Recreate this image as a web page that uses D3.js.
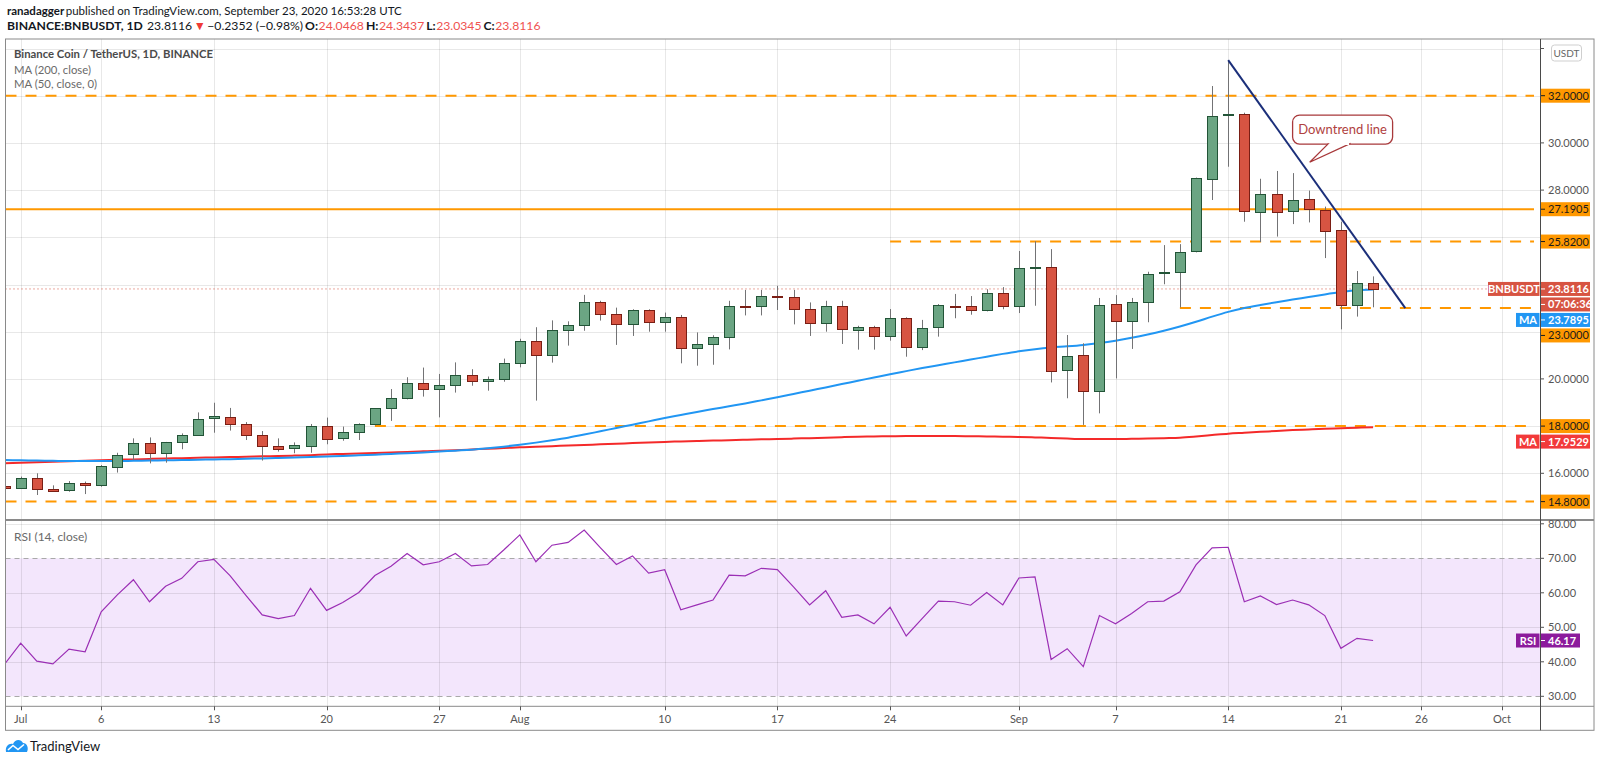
<!DOCTYPE html>
<html>
<head>
<meta charset="utf-8">
<style>
  body { margin: 0; background: #fff; }
  svg { display: block; font-family: Lato, "Open Sans", sans-serif; }
</style>
<script src="https://cdn.jsdelivr.net/npm/d3@7"></script>
</head>
<body>
<svg id="chart" width="1600" height="763"></svg>
<script>
// daily candles, Jun 30 .. Sep 23 2020
const days = ["06-30",
  "07-01","07-02","07-03","07-04","07-05","07-06","07-07","07-08","07-09","07-10",
  "07-11","07-12","07-13","07-14","07-15","07-16","07-17","07-18","07-19","07-20",
  "07-21","07-22","07-23","07-24","07-25","07-26","07-27","07-28","07-29","07-30","07-31",
  "08-01","08-02","08-03","08-04","08-05","08-06","08-07","08-08","08-09","08-10",
  "08-11","08-12","08-13","08-14","08-15","08-16","08-17","08-18","08-19","08-20",
  "08-21","08-22","08-23","08-24","08-25","08-26","08-27","08-28","08-29","08-30","08-31",
  "09-01","09-02","09-03","09-04","09-05","09-06","09-07","09-08","09-09","09-10",
  "09-11","09-12","09-13","09-14","09-15","09-16","09-17","09-18","09-19","09-20",
  "09-21","09-22","09-23"];

const open = [15.46,
  15.38,15.79,15.35,15.28,15.59,15.48,16.30,16.80,17.27,16.83,
  17.31,17.62,18.31,18.39,18.08,17.62,17.17,17.06,17.17,18.00,
  17.47,17.74,18.07,18.75,19.18,19.81,19.56,19.74,20.15,19.90,19.98,
  20.66,21.59,21.00,22.06,22.28,23.26,22.75,22.33,22.92,22.40,
  22.62,21.30,21.48,21.76,23.08,23.07,23.52,23.46,22.96,22.35,
  23.07,22.10,22.20,21.83,22.58,21.37,22.19,23.11,23.09,22.93,23.63,
  23.10,24.72,24.74,20.38,21.00,19.49,23.16,22.44,23.26,24.52,
  24.56,25.39,28.50,31.18,31.22,27.10,27.82,27.10,27.61,27.16,
  26.29,23.10,24.0468];
const high = [15.52,
  15.86,16.00,15.49,15.67,15.65,16.35,16.87,17.48,17.52,17.33,
  17.69,18.58,18.99,18.77,18.17,17.79,17.48,17.31,18.09,18.36,
  17.98,18.12,18.76,19.57,20.07,20.48,20.21,20.70,20.41,20.10,20.86,
  21.70,22.19,22.48,22.44,23.56,23.31,23.02,22.95,22.95,22.81,
  22.71,21.97,21.85,23.31,23.77,23.77,23.94,23.77,23.24,23.31,
  23.31,22.25,22.25,22.96,22.61,22.50,23.17,23.60,23.51,23.80,23.89,
  25.42,25.83,25.50,21.86,21.51,23.43,23.55,23.43,24.54,25.67,
  25.71,28.53,32.41,33.51,31.28,28.48,28.81,28.72,27.98,27.30,
  26.66,24.57,24.3437];
const low = [15.35,
  15.35,15.08,15.24,15.22,15.12,15.43,16.03,16.56,16.42,16.45,
  17.02,17.58,17.72,17.81,17.41,16.54,16.92,16.85,16.87,17.23,
  17.38,17.41,18.03,18.22,19.13,19.25,18.37,19.42,19.71,19.50,19.88,
  20.49,19.08,20.69,21.41,22.04,22.47,21.44,21.82,22.00,22.00,
  20.66,20.56,20.60,21.25,22.69,22.69,22.92,22.31,21.82,22.00,
  21.48,21.24,21.24,21.62,20.94,21.22,21.79,22.57,22.72,22.86,22.95,
  22.79,23.10,19.85,19.18,18.05,18.54,20.02,21.27,22.40,24.01,
  23.03,25.36,27.58,28.99,26.66,25.80,26.03,26.56,26.63,25.12,
  22.10,22.64,23.0345];
const close = [15.38,
  15.79,15.33,15.26,15.57,15.50,16.30,16.79,17.27,16.83,17.31,
  17.62,18.30,18.41,18.08,17.62,17.17,17.06,17.18,18.02,17.47,
  17.74,18.07,18.75,19.18,19.81,19.56,19.74,20.15,19.90,19.98,20.66,
  21.59,21.00,22.06,22.27,23.26,22.75,22.33,22.92,22.41,22.62,
  21.30,21.48,21.76,23.07,23.06,23.50,23.50,22.96,22.35,23.07,
  22.10,22.21,21.83,22.58,21.37,22.17,23.12,23.09,22.93,23.63,23.10,
  24.69,24.73,20.35,20.96,19.49,23.12,22.44,23.26,24.43,24.53,
  25.39,28.50,31.15,31.22,27.10,27.85,27.06,27.58,27.18,26.29,
  23.10,24.0468,23.8116];

// MA (50) and MA (200)
const ma50 = [16.56,
  16.55,16.54,16.53,16.52,16.52,16.52,16.52,16.53,16.54,16.55,
  16.56,16.57,16.59,16.60,16.62,16.63,16.65,16.67,16.69,16.71,
  16.73,16.76,16.79,16.82,16.85,16.88,16.92,16.96,17.00,17.06,17.13,
  17.21,17.30,17.40,17.51,17.64,17.78,17.92,18.06,18.20,18.34,
  18.47,18.60,18.72,18.84,18.96,19.09,19.22,19.36,19.50,19.64,
  19.78,19.92,20.06,20.20,20.33,20.46,20.58,20.70,20.82,20.94,21.06,
  21.17,21.26,21.33,21.38,21.44,21.52,21.62,21.74,21.88,22.04,
  22.22,22.42,22.64,22.84,23.00,23.13,23.25,23.36,23.47,23.58,
  23.68,23.76,23.7895];
const ma200 = [16.43,
  16.45,16.47,16.49,16.51,16.53,16.55,16.57,16.59,16.61,16.63,
  16.64,16.66,16.67,16.69,16.70,16.72,16.73,16.75,16.77,16.80,
  16.82,16.84,16.86,16.88,16.90,16.93,16.96,16.98,17.01,17.04,17.07,
  17.10,17.13,17.15,17.18,17.20,17.23,17.25,17.28,17.30,17.33,
  17.35,17.37,17.39,17.40,17.42,17.44,17.45,17.47,17.49,17.51,
  17.53,17.55,17.56,17.57,17.58,17.58,17.58,17.58,17.57,17.56,17.55,
  17.54,17.52,17.50,17.47,17.45,17.45,17.45,17.46,17.47,17.49,
  17.51,17.56,17.62,17.68,17.72,17.76,17.79,17.83,17.86,17.89,
  17.91,17.93,17.9529];

// RSI (14, close)
const rsi = [39.3,
  45.4,40.2,39.4,43.7,42.9,54.5,59.4,63.8,57.4,61.9,
  64.2,69.0,69.7,65.0,59.2,53.6,52.5,53.4,61.3,54.9,
  57.2,60.1,65.0,67.7,71.4,68.1,69.0,71.4,67.8,68.2,72.4,
  76.8,69.0,73.8,74.6,78.2,73.1,68.2,70.7,65.7,66.7,
  55.1,56.5,57.9,65.1,64.9,67.1,66.7,61.7,56.5,60.6,
  52.9,53.6,51.0,55.8,47.5,52.6,57.6,57.4,56.4,60.1,56.5,
  64.3,64.6,40.7,43.8,38.6,53.4,51.0,54.0,57.4,57.6,
  60.3,68.1,73.0,73.2,57.4,59.1,56.6,57.9,56.5,53.4,
  43.9,46.8,46.17];

// horizontal levels drawn on the chart
const levelValues = [32, 27.1905, 25.82, 23, 18, 14.8];
const levelFrom = [null, null, "08-24", "09-11", "07-23", null];
const levelDashed = [true, false, true, true, true, true];
const levelText = ["32.0000", "27.1905", "25.8200", "23.0000", "18.0000", "14.8000"];

const priceTicks = [14, 16, 18, 20, 22, 24, 26, 28, 30, 32, 34];
const rsiTicks = [80, 70, 60, 50, 40, 30];
const rsiGrid = [80, 60, 50, 40];
const timeTicks = ["07-01","07-06","07-13","07-20","07-27","08-01","08-10","08-17","08-24","09-01","09-07","09-14","09-21","09-26","10-01"];
const timeLabels = ["Jul","6","13","20","27","Aug","10","17","24","Sep","7","14","21","26","Oct"];

// trend line: Sep 14 high down to Sep 25
const trendDays = ["09-14", "09-25"];
const trendPrices = [33.51, 23.0];

const parse = s => new Date(`2020-${s}T00:00:00Z`);
const dates = days.map(parse);
const idx = d3.range(days.length);

// layout
const pL = 5.5, pR = 1540, pOuter = 1594;
const pTop = 39, pSep = 520, pAxis = 706.3, pBottom = 730.3;

const x = d3.scaleUtc().domain([parse("07-01"), parse("10-01")]).range([20.7, 1501.9]);
const y = d3.scaleLinear().domain([16, 32]).range([473.3, 95.7]);
const yR = d3.scaleLinear().domain([30, 70]).range([696.3, 558.3]);

const svg = d3.select("#chart");
const defs = svg.append("defs");
defs.append("clipPath").attr("id", "clip-price")
  .append("rect").attr("x", pL).attr("y", pTop).attr("width", pR - pL).attr("height", pSep - pTop);
defs.append("clipPath").attr("id", "clip-rsi")
  .append("rect").attr("x", pL).attr("y", pSep).attr("width", pR - pL).attr("height", pAxis - pSep);

// header: pieces laid out one after another, gaps stretched to fit the given width
function headerRow(yPos, size, pieces, total) {
  const g = svg.append("g").attr("font-size", size);
  const nodes = pieces.map(p => g.append("text").attr("y", yPos)
    .attr("fill", p.fill || "#131722").attr("font-weight", p.bold ? "bold" : null).text(p.t));
  const widths = nodes.map(n => n.node().getComputedTextLength());
  const gaps = pieces.map(p => p.gap || 0);
  const k = total ? Math.max(0.5, (total - d3.sum(widths)) / d3.sum(gaps)) : 1;
  let xPos = 7;
  nodes.forEach((n, i) => {
    xPos += gaps[i] * k;
    n.attr("x", xPos);
    xPos += widths[i];
  });
}
headerRow(15, 11.5, [
  { t: "ranadagger", bold: true },
  { t: "published on TradingView.com, September 23, 2020 16:53:28 UTC", gap: 3 }
], 386);
headerRow(29.5, 12.2, [
  { t: "BINANCE:BNBUSDT, 1D", bold: true },
  { t: "23.8116", gap: 8 },
  { t: "▼", fill: "#ef3b36", gap: 3 },
  { t: "\u22120.2352 (\u22120.98%)", gap: 3 },
  { t: "O:", bold: true, gap: 4 }, { t: "24.0468", fill: "#ef5350", gap: 1 },
  { t: "H:", bold: true, gap: 4 }, { t: "24.3437", fill: "#ef5350", gap: 1 },
  { t: "L:", bold: true, gap: 4 }, { t: "23.0345", fill: "#ef5350", gap: 1 },
  { t: "C:", bold: true, gap: 4 }, { t: "23.8116", fill: "#ef5350", gap: 1 }
], 528);

// RSI band
svg.append("rect")
  .attr("x", pL).attr("width", pR - pL)
  .attr("y", yR(70)).attr("height", yR(30) - yR(70))
  .attr("fill", "#f3e6fc");

// grid
const grid = svg.append("g").attr("stroke", "rgba(0,0,0,0.09)").attr("stroke-width", 1);
grid.selectAll(".vg").data(timeTicks).join("line")
  .attr("x1", d => Math.round(x(parse(d))) + 0.5).attr("x2", d => Math.round(x(parse(d))) + 0.5)
  .attr("y1", pTop).attr("y2", pAxis);
grid.selectAll(".hg").data(priceTicks.filter(v => y(v) > pTop && y(v) < pSep)).join("line")
  .attr("x1", pL).attr("x2", pR)
  .attr("y1", d => Math.round(y(d)) + 0.5).attr("y2", d => Math.round(y(d)) + 0.5);
grid.selectAll(".rg").data(rsiGrid).join("line")
  .attr("x1", pL).attr("x2", pR)
  .attr("y1", d => Math.round(yR(d)) + 0.5).attr("y2", d => Math.round(yR(d)) + 0.5);

svg.append("g").selectAll("line").data([70, 30]).join("line")
  .attr("x1", pL).attr("x2", pR)
  .attr("y1", d => Math.round(yR(d)) + 0.5).attr("y2", d => Math.round(yR(d)) + 0.5)
  .attr("stroke", "#a9a9a9").attr("stroke-dasharray", "5,4");

// price pane
const price = svg.append("g").attr("clip-path", "url(#clip-price)");

// last price dotted line
price.append("line")
  .attr("x1", pL).attr("x2", pR)
  .attr("y1", y(close[close.length - 1])).attr("y2", y(close[close.length - 1]))
  .attr("stroke", "#d75442").attr("stroke-dasharray", "1,3").attr("stroke-width", 1);

// support / resistance levels
price.selectAll(".lvl").data(levelValues).join("line")
  .attr("x1", (d, i) => levelFrom[i] ? x(parse(levelFrom[i])) : pL)
  .attr("x2", pR - 6)
  .attr("y1", d => y(d)).attr("y2", d => y(d))
  .attr("stroke", "#ff9800").attr("stroke-width", 2)
  .attr("stroke-dasharray", (d, i) => levelDashed[i] ? "11,9" : null);

// moving averages
const maLine = vals => d3.line().x((d, i) => x(dates[i])).y(d => y(d)).curve(d3.curveMonotoneX)(vals);
price.append("path").attr("d", maLine(ma200))
  .attr("fill", "none").attr("stroke", "#f42a2a").attr("stroke-width", 2);
price.append("path").attr("d", maLine(ma50))
  .attr("fill", "none").attr("stroke", "#2196f3").attr("stroke-width", 2);

// candles
const bw = 10;
const up = i => close[i] >= open[i];
const cx = i => Math.round(x(dates[i])) + 0.5;
price.selectAll(".wick").data(idx).join("line")
  .attr("x1", cx).attr("x2", cx)
  .attr("y1", i => y(high[i])).attr("y2", i => y(low[i]))
  .attr("stroke", "#737375").attr("stroke-width", 1);
price.selectAll(".body").data(idx).join("rect")
  .attr("x", i => cx(i) - bw / 2)
  .attr("width", bw)
  .attr("y", i => Math.round(y(Math.max(open[i], close[i]))) + 0.5)
  .attr("height", i => Math.max(1, Math.round(Math.abs(y(open[i]) - y(close[i])))))
  .attr("fill", i => up(i) ? "#6ba583" : "#d75442")
  .attr("stroke", i => up(i) ? "#225437" : "#7a1e14")
  .attr("stroke-width", 1);

// downtrend line
price.append("line")
  .attr("x1", x(parse(trendDays[0]))).attr("y1", y(trendPrices[0]))
  .attr("x2", x(parse(trendDays[1]))).attr("y2", y(trendPrices[1]))
  .attr("stroke", "#1b2f7a").attr("stroke-width", 2);

// callout
const bx = x(parse("09-18")), bwid = 100, byT = y(31.18), byB = y(29.95);
const tipX = x(parse("09-19")) + 1, tipY = y(29.18);
const call = price.append("g");
call.append("rect").attr("x", bx).attr("y", byT).attr("width", bwid).attr("height", byB - byT)
  .attr("rx", 7).attr("fill", "#fff").attr("stroke", "#a8393b").attr("stroke-width", 1.3);
call.append("path")
  .attr("d", `M${bx + 36},${byB - 0.7} L${tipX},${tipY} L${bx + 58},${byB - 0.7}`)
  .attr("fill", "#fff").attr("stroke", "#a8393b").attr("stroke-width", 1.3);
call.append("line").attr("x1", bx + 37.5).attr("x2", bx + 56.5).attr("y1", byB).attr("y2", byB)
  .attr("stroke", "#fff").attr("stroke-width", 2);
call.append("text").attr("x", bx + bwid / 2).attr("y", (byT + byB) / 2 + 4.5)
  .attr("text-anchor", "middle").attr("font-size", 13).attr("fill", "#b0413e")
  .text("Downtrend line");

// legend
const leg = svg.append("g").attr("font-size", 12);
leg.append("text").attr("x", 14).attr("y", 57.5).attr("fill", "#4a4a4a").attr("font-weight", "bold")
  .attr("textLength", 199).attr("lengthAdjust", "spacingAndGlyphs")
  .text("Binance Coin / TetherUS, 1D, BINANCE");
leg.append("text").attr("x", 14).attr("y", 73.5).attr("fill", "#6a6a6a")
  .attr("textLength", 77).attr("lengthAdjust", "spacingAndGlyphs").text("MA (200, close)");
leg.append("text").attr("x", 14).attr("y", 87.5).attr("fill", "#6a6a6a")
  .attr("textLength", 83).attr("lengthAdjust", "spacingAndGlyphs").text("MA (50, close, 0)");
leg.append("text").attr("x", 14).attr("y", 541).attr("fill", "#6a6a6a").text("RSI (14, close)");

// RSI line
svg.append("g").attr("clip-path", "url(#clip-rsi)")
  .append("path")
  .attr("d", d3.line().x((d, i) => x(dates[i])).y(d => yR(d))(rsi))
  .attr("fill", "none").attr("stroke", "#9b2fb5").attr("stroke-width", 1.2);

// frame
const frame = svg.append("g").attr("fill", "none");
frame.append("rect").attr("x", pL).attr("y", pTop).attr("width", pOuter - pL).attr("height", pBottom - pTop)
  .attr("stroke", "#8a8a8a");
frame.append("line").attr("x1", pL).attr("x2", pOuter).attr("y1", pSep).attr("y2", pSep)
  .attr("stroke", "#8a8a8a").attr("stroke-width", 2);
frame.append("line").attr("x1", pL).attr("x2", pOuter).attr("y1", pAxis).attr("y2", pAxis)
  .attr("stroke", "#8a8a8a");
frame.append("line").attr("x1", pR + 0.5).attr("x2", pR + 0.5).attr("y1", pTop).attr("y2", pBottom)
  .attr("stroke", "#4a4a4a");

// time axis
const tax = svg.append("g").attr("font-size", 11).attr("fill", "#555");
tax.selectAll("line").data(timeTicks).join("line")
  .attr("x1", d => Math.round(x(parse(d))) + 0.5).attr("x2", d => Math.round(x(parse(d))) + 0.5)
  .attr("y1", pAxis).attr("y2", pAxis + 4).attr("stroke", "#555");
tax.selectAll("text").data(timeTicks).join("text")
  .attr("x", d => x(parse(d))).attr("y", 723)
  .attr("text-anchor", "middle").text((d, i) => timeLabels[i]);

// axis value labels, stacked so they don't overlap
const lastClose = close[close.length - 1];
const labels = [
  { v: lastClose, text: lastClose.toFixed(4), name: "BNBUSDT", nameW: 52, fill: "#d75442", color: "#fff", order: 0 },
  { v: lastClose, text: "07:06:36", fill: "#d75442", color: "#fff", order: 1 },
  { v: ma50[ma50.length - 1], text: ma50[ma50.length - 1].toFixed(4), name: "MA", nameW: 24, fill: "#2196f3", color: "#fff", order: 2 },
  { v: ma200[ma200.length - 1], text: ma200[ma200.length - 1].toFixed(4), name: "MA", nameW: 24, fill: "#f23a3a", color: "#fff", order: 4 }
];
levelValues.forEach((v, i) => labels.push({ v, text: levelText[i], fill: "#ff9800", color: "#1b1b1b", order: 3 }));
labels.forEach(l => l.y = y(l.v));
labels.sort((a, b) => a.y - b.y || a.order - b.order);
const lh = 14, gap = 15.5;
let prev = -Infinity;
labels.forEach(l => {
  if (l.y < prev + gap) l.y = prev + gap;
  prev = l.y;
});

// price axis (tick labels hidden behind a value label or the USDT badge are left out)
const badgeY = 53;
const covered = v => labels.some(l => Math.abs(l.y - y(v)) < 12) || Math.abs(y(v) - badgeY) < 12;
const pax = svg.append("g").attr("font-size", 11).attr("fill", "#555");
const pTicks = priceTicks.filter(v => y(v) > pTop + 5 && y(v) < pSep - 4);
pax.selectAll("line").data(pTicks).join("line")
  .attr("x1", pR).attr("x2", pR + 4)
  .attr("y1", d => y(d)).attr("y2", d => y(d)).attr("stroke", "#555");
pax.selectAll("text").data(pTicks.filter(v => !covered(v))).join("text")
  .attr("x", pR + 8).attr("y", d => y(d) + 4).text(d => d.toFixed(4));

const rax = svg.append("g").attr("font-size", 11).attr("fill", "#555");
rax.selectAll("line").data(rsiTicks).join("line")
  .attr("x1", pR).attr("x2", pR + 4)
  .attr("y1", d => yR(d)).attr("y2", d => yR(d)).attr("stroke", "#555");
rax.selectAll("text").data(rsiTicks).join("text")
  .attr("x", pR + 8).attr("y", d => yR(d) + 4).text(d => d.toFixed(2));

// USDT badge
svg.append("rect").attr("x", 1551.5).attr("y", badgeY - 8).attr("width", 30).attr("height", 16).attr("rx", 3)
  .attr("fill", "#fff").attr("stroke", "#cfcfcf");
svg.append("text").attr("x", 1566.5).attr("y", badgeY + 3.5).attr("text-anchor", "middle")
  .attr("font-size", 10).attr("fill", "#666").text("USDT");

const lab = svg.append("g").attr("font-size", 11);
labels.forEach(l => {
  const g = lab.append("g");
  g.append("rect").attr("x", pR + 1).attr("y", l.y - lh / 2).attr("width", 49).attr("height", lh)
    .attr("fill", l.fill);
  g.append("line").attr("x1", pR + 1).attr("x2", pR + 5).attr("y1", l.y).attr("y2", l.y)
    .attr("stroke", l.color);
  g.append("text").attr("x", pR + 8).attr("y", l.y + 4).attr("fill", l.color)
    .attr("font-weight", l.color === "#fff" ? "bold" : null).text(l.text);
  if (l.name) {
    g.append("rect").attr("x", pR - l.nameW).attr("y", l.y - lh / 2).attr("width", l.nameW - 0.5).attr("height", lh)
      .attr("fill", l.fill);
    g.append("text").attr("x", pR - l.nameW / 2).attr("y", l.y + 4).attr("text-anchor", "middle")
      .attr("fill", "#fff").attr("font-weight", "bold").text(l.name);
  }
});

// RSI value label
const lastRsi = rsi[rsi.length - 1];
const rl = svg.append("g").attr("font-size", 11).attr("font-weight", "bold");
rl.append("rect").attr("x", pR - 24).attr("y", yR(lastRsi) - lh / 2).attr("width", 23.5).attr("height", lh).attr("fill", "#8c1b9c");
rl.append("rect").attr("x", pR + 1).attr("y", yR(lastRsi) - lh / 2).attr("width", 39).attr("height", lh).attr("fill", "#8c1b9c");
rl.append("line").attr("x1", pR + 1).attr("x2", pR + 5).attr("y1", yR(lastRsi)).attr("y2", yR(lastRsi)).attr("stroke", "#fff");
rl.append("text").attr("x", pR - 12).attr("y", yR(lastRsi) + 4).attr("text-anchor", "middle").attr("fill", "#fff").text("RSI");
rl.append("text").attr("x", pR + 8).attr("y", yR(lastRsi) + 4).attr("fill", "#fff").text(lastRsi.toFixed(2));

// TradingView mark
const logo = svg.append("g");
logo.append("path")
  .attr("d", "M6,752 C5,746 9,743 13,744 C15,739 21,739 23,743 C27,743 29,748 27,752 Z")
  .attr("fill", "#2196f3");
logo.append("polyline").attr("points", "8,750 13,745.5 18,749.5 24,744.5")
  .attr("fill", "none").attr("stroke", "#fff").attr("stroke-width", 1.6);
logo.append("text").attr("x", 30).attr("y", 750.5).attr("font-size", 13).attr("fill", "#131722").text("TradingView");
</script>
</body>
</html>
